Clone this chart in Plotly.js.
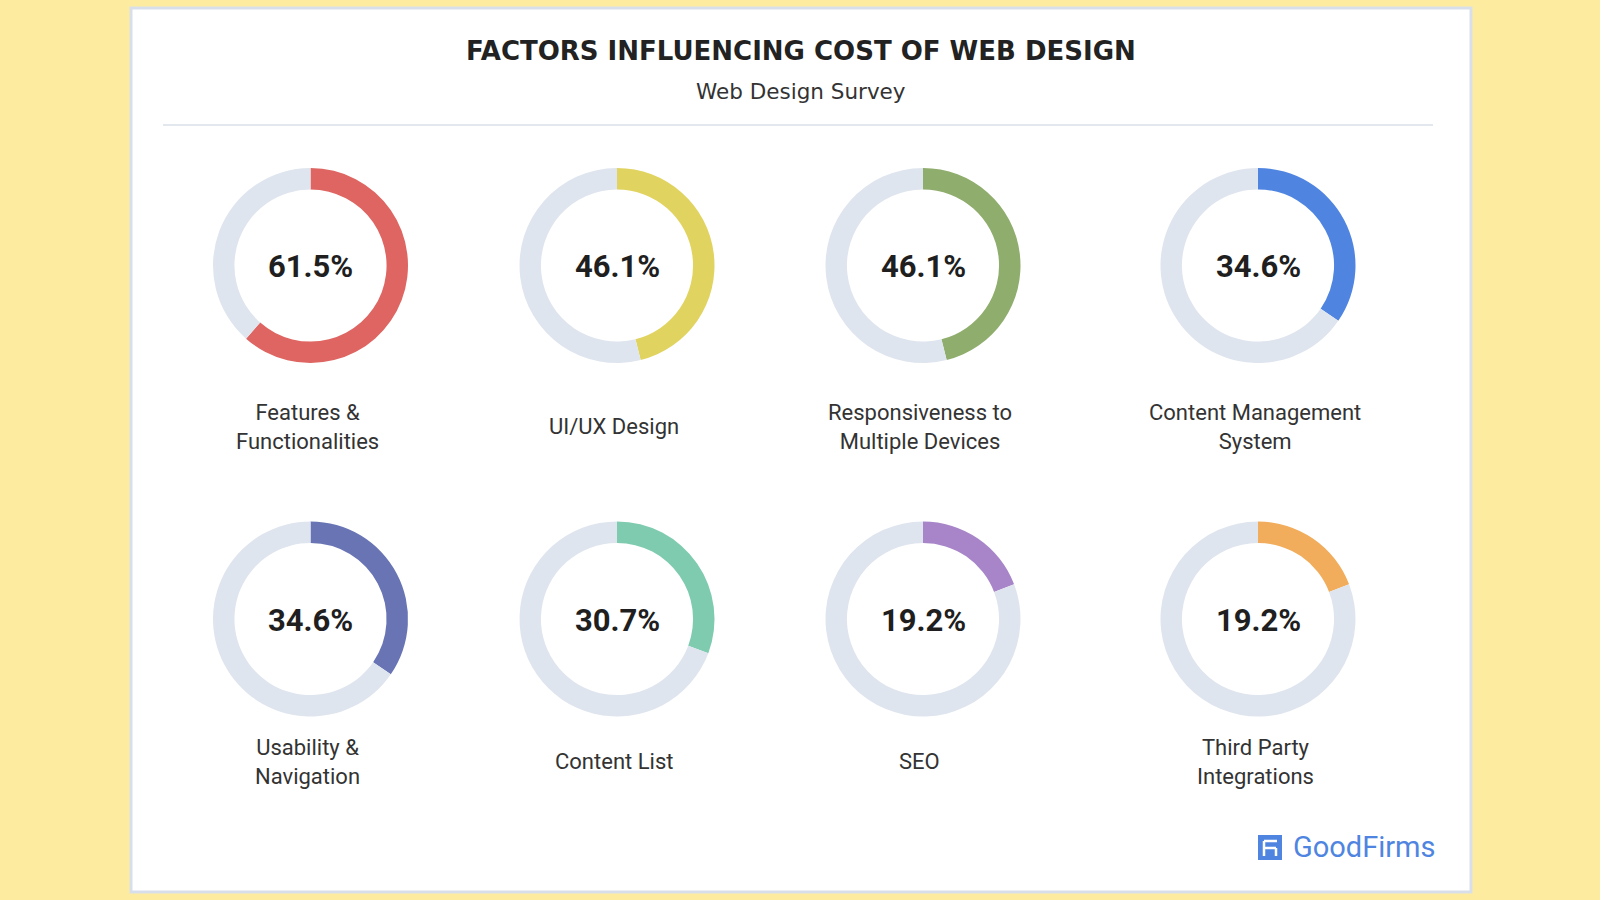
<!DOCTYPE html>
<html><head><meta charset="utf-8">
<script src="https://cdn.plot.ly/plotly-3.0.1.min.js"></script>
<style>html,body{margin:0;padding:0;background:#fdec9f;}#chart{width:1600px;height:900px;}</style>
</head><body><div id="chart"></div>
<script>
const categories = ["Features &<br>Functionalities","UI/UX Design","Responsiveness to<br>Multiple Devices","Content Management<br>System","Usability &<br>Navigation","Content List","SEO","Third Party<br>Integrations"];
const values = [61.5, 46.1, 46.1, 34.6, 34.6, 30.7, 19.2, 19.2];
const colors = ["#de6561","#e1d35f","#8fad6c","#4f85e1","#6874b3","#7fcbb0","#a785c8","#f1ad5c"];
const trackColor = "#dfe5ee";

const W = 1600, H = 900;
const colX = [310.5, 617, 923, 1258];
const rowY = [265.5, 619];
const R = 97.5;
const labelY = [426.5, 761.5];

const px = (x) => x / W, py = (y) => 1 - y / H;

const traces = [];
const annotations = [];
const ann = (text, x, y, font, extra) => Object.assign({
  text: text, x: px(x), y: py(y), xref: 'paper', yref: 'paper',
  xanchor: 'center', yanchor: 'middle', showarrow: false, align: 'center', font: font
}, extra || {});

values.forEach((v, i) => {
  const cx = colX[i % 4], cy = rowY[Math.floor(i / 4)];
  traces.push({
    type: 'pie', values: [v, 100 - v], labels: ['a' + i, 'b' + i],
    marker: {colors: [colors[i], trackColor], line: {width: 0}},
    hole: 0.78, sort: false, direction: 'clockwise', rotation: 0,
    textinfo: 'none', hoverinfo: 'none', showlegend: false,
    domain: {x: [px(cx - R), px(cx + R)], y: [py(cy + R), py(cy - R)]}
  });
  annotations.push(ann(v.toFixed(1) + '%', cx, cy + 1.5, {family: 'Roboto', size: 31, color: '#1f1f1f', weight: 700}));
  annotations.push(ann(categories[i], cx - 3, labelY[Math.floor(i / 4)], {family: 'Roboto', size: 22, color: '#333333'}));
});

annotations.push(ann('FACTORS INFLUENCING COST OF WEB DESIGN', 801, 51, {family: 'DejaVu Sans', size: 26, color: '#222222', weight: 700}));
annotations.push(ann('Web Design Survey', 801, 91, {family: 'DejaVu Sans', size: 21.5, color: '#333333', weight: 400}));
annotations.push(ann('GoodFirms', 1291, 847, {family: 'Roboto', size: 29, color: '#4f85e1'}, {xanchor: 'left'}));

const shapes = [
  {type: 'rect', xref: 'paper', yref: 'paper', x0: px(131), x1: px(1471), y0: py(892), y1: py(8),
   fillcolor: '#ffffff', line: {color: '#d9dfea', width: 3}, layer: 'below'},
  {type: 'line', xref: 'paper', yref: 'paper', x0: px(163), x1: px(1433), y0: py(125), y1: py(125),
   line: {color: '#e3e7ee', width: 2}},
  {type: 'rect', xref: 'paper', yref: 'paper', x0: px(1258), x1: px(1282), y0: py(860), y1: py(835),
   fillcolor: '#4f85e1', line: {width: 0}},
  {type: 'line', xref: 'paper', yref: 'paper', x0: px(1264), x1: px(1277), y0: py(841), y1: py(841),
   line: {color: '#ffffff', width: 2.5}},
  {type: 'line', xref: 'paper', yref: 'paper', x0: px(1264), x1: px(1264), y0: py(841), y1: py(856),
   line: {color: '#ffffff', width: 2.5}},
  {type: 'line', xref: 'paper', yref: 'paper', x0: px(1264), x1: px(1276), y0: py(848), y1: py(848),
   line: {color: '#ffffff', width: 2.5}},
  {type: 'line', xref: 'paper', yref: 'paper', x0: px(1276), x1: px(1276), y0: py(848), y1: py(856),
   line: {color: '#ffffff', width: 2.5}}
];

Plotly.newPlot('chart', traces, {
  width: W, height: H, margin: {l: 0, r: 0, t: 0, b: 0},
  paper_bgcolor: '#fdec9f', plot_bgcolor: '#fdec9f',
  annotations: annotations, shapes: shapes
}, {displayModeBar: false, staticPlot: true});
</script></body></html>
